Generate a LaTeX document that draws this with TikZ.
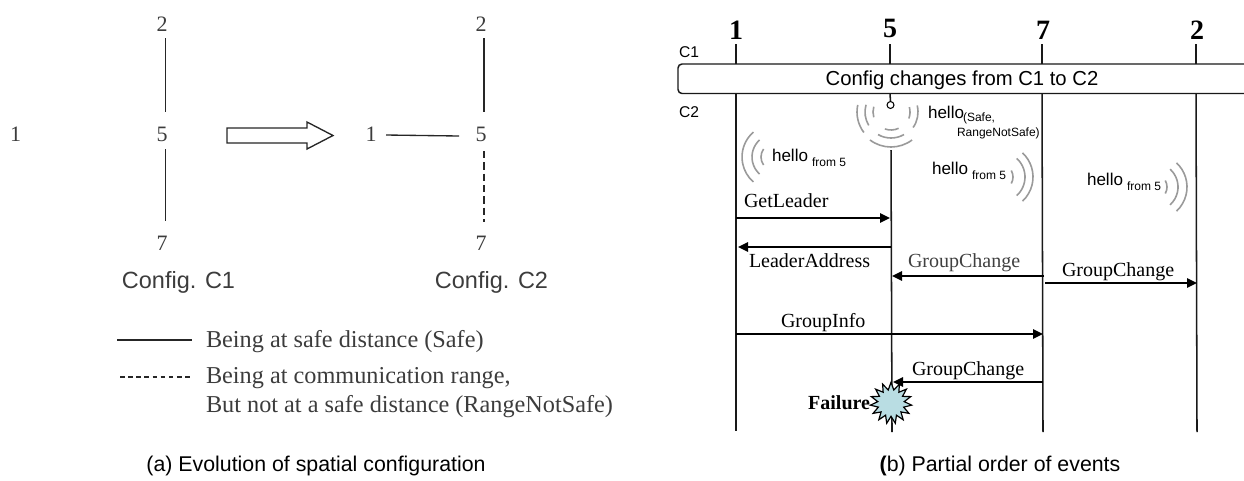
\documentclass[tikz,border=0pt]{standalone}
\usepackage{fontspec}
\setmainfont{Liberation Serif}
\newfontfamily\arialf{Liberation Sans}
\usetikzlibrary{arrows.meta,shapes.geometric}
\definecolor{graytxt}{HTML}{3C3C3C}
\definecolor{wavegray}{HTML}{9A9A9A}
\definecolor{burst}{HTML}{B9DDE3}
\newcommand{\fsz}[1]{\fontsize{#1}{#1}\selectfont}
\tikzset{
  x=0.75pt,y=-0.75pt,
  lab/.style={inner sep=0pt,outer sep=0pt},
  digit/.style={lab,font=\fsz{16.5}\color{graytxt}},
  cfg/.style={lab,font=\arialf\fsz{17.6}\color{graytxt}},
  legend/.style={lab,anchor=west,font=\fsz{18.2}\color{graytxt}},
  caption/.style={lab,font=\arialf\fsz{16}},
  proc/.style={lab,font=\bfseries\fsz{21}},
  msg/.style={lab,anchor=west,font=\fsz{15}},
  hl/.style={lab,anchor=west,font=\arialf\fsz{12.8}},
  sb/.style={lab,anchor=west,font=\arialf\fsz{9}},
  tag/.style={lab,font=\arialf\fsz{11.7}},
  link/.style={line width=1pt,black!85},
  life/.style={line width=1.15pt,black!90},
  mess/.style={line width=1.3pt,black,-{Triangle[length=7.5pt,width=7pt]}},
  wave/.style={line width=1.2pt,wavegray},
}
\newcommand{\wv}[5]{\draw[wave] (#1,#2) ++(#4:#3*0.75pt) arc[start angle=#4,end angle=#5,radius=#3*0.75pt];}
\begin{document}
\begin{tikzpicture}
\useasboundingbox (0,0) rectangle (1244,480);
% ---- left panel
\node[digit] (a1) at (15.5,134) {1};
\node[digit] (a2) at (162,24) {2};
\node[digit] (a5) at (162,134) {5};
\node[digit] (a7) at (162,243) {7};
\coordinate (a2b) at (165.5,38);
\coordinate (a5t) at (165.5,112);
\coordinate (a5b) at (165.5,149);
\coordinate (a7t) at (165.5,221);
\draw[link] (a2b) -- (a5t);
\draw[link] (a5b) -- (a7t);
\draw[link,fill=white] (227,128) -- (307,128) -- (307,122) -- (333,135.5) -- (307,149) -- (307,143) -- (227,143) -- cycle;
\node[digit] (b1) at (371,134) {1};
\node[digit] (b2) at (481,24) {2};
\node[digit] (b5) at (481,134) {5};
\node[digit] (b7) at (481,243) {7};
\coordinate (b2b) at (484,38);
\coordinate (b5t) at (484,112);
\coordinate (b5b) at (484,151);
\coordinate (b7t) at (484,222);
\coordinate (b1r) at (386,135);
\coordinate (b5l) at (459,136);
\draw[link] (b2b) -- (b5t);
\draw[link] (b1r) -- (b5l);
\draw[link,dash pattern=on 5.5pt off 3pt] (b5b) -- (b7t);
\node[cfg] (c1) at (178.5,282) {Config. C1};
\node[cfg] (c2) at (491.5,282) {Config. C2};
\coordinate (l1a) at (117,340); \coordinate (l1b) at (192,340);
\coordinate (l2a) at (120,377); \coordinate (l2b) at (192,377);
\draw[link] (l1a) -- (l1b);
\draw[link,dash pattern=on 3.5pt off 2.6pt] (l2a) -- (l2b);
\node[legend] (t1) at (206,342) {Being at safe distance (Safe)};
\node[legend] (t2) at (206,378) {Being at communication range,};
\node[legend] (t3) at (206,407) {But not at a safe distance (RangeNotSafe)};
\node[caption] (capa) at (316,466) {(a) Evolution of spatial configuration};
% ---- right panel
\node[proc] (p1) at (736,30) {1};
\node[proc] (p5) at (890,28) {5};
\node[proc] (p7) at (1043,30) {7};
\node[proc] (p2) at (1197,30) {2};
\node[tag] (lc1) at (689,52) {C1};
\node[tag] (lc2) at (689,112) {C2};
\coordinate (boxtr) at (1244,64); \coordinate (boxbr) at (1244,93.5);
\draw[line width=1.1pt,black!90,rounded corners=3pt] (boxtr) -- (678,64) -- (678,93.5) -- (boxbr);
\node[lab,font=\arialf\fsz{15.2}] (box) at (962,80) {Config changes from C1 to C2};
\coordinate (l1t) at (736,44); \coordinate (l5t) at (890,44);
\coordinate (l7t) at (1042,44); \coordinate (l2t) at (1196,44);
\coordinate (l1a) at (736,94); \coordinate (l5a) at (890,94);
\coordinate (l7a) at (1042,94); \coordinate (l2a) at (1196,94);
\coordinate (l1u) at (736,64); \coordinate (l5u) at (890,64);
\coordinate (l7u) at (1042,64); \coordinate (l2u) at (1196,64);
\coordinate (l1b) at (736,431); \coordinate (l5c) at (891,150); \coordinate (l5e) at (892,432);
\coordinate (l7b) at (1043,432); \coordinate (l2b) at (1197,432);
\draw[life] (l1t) -- (l1u);
\draw[life] (l5t) -- (l5u);
\draw[life] (l7t) -- (l7u);
\draw[life] (l2t) -- (l2u);
\draw[life] (l1a) -- (l1b);
\node[circle,draw,line width=0.8pt,minimum size=5.2pt,inner sep=0pt] (ant) at (890.5,105) {};
\draw[life] (l5a) -- (ant.north);
\draw[life] (l5c) -- (l5e);
\draw[life] (l7a) -- (l7b);
\draw[life] (l2a) -- (l2b);
% waves
\wv{891}{112}{18}{163}{197}
\wv{891}{112}{26}{164}{211}
\wv{891}{112}{34}{168}{217}
\wv{891}{112}{19}{15}{-20}
\wv{891}{112}{27}{14}{-35}
\wv{891}{112}{18}{250}{295}
\wv{891}{112}{26}{240}{300}
\wv{891}{112}{35}{233}{307}
\wv{775}{157}{14}{145}{215}
\wv{775}{157}{23}{132}{228}
\wv{775}{157}{33}{131}{229}
\wv{1000}{177}{13}{30}{-30}
\wv{1000}{177}{25}{48}{-48}
\wv{1000}{177}{33}{47}{-47}
\wv{1154}{187}{13}{30}{-30}
\wv{1154}{187}{24}{48}{-48}
\wv{1154}{187}{33}{47}{-47}
% hello labels
\node[hl] (h0) at (928,112) {hello};
\node[sb] (h0a) at (963,118) {(Safe,};
\node[sb] (h0b) at (957,133) {RangeNotSafe)};
\node[hl] (h1) at (772,155) {hello};
\node[sb] (h1s) at (812,162) {from 5};
\node[hl] (h2) at (932,168) {hello};
\node[sb] (h2s) at (972,175) {from 5};
\node[hl] (h3) at (1087,179) {hello};
\node[sb] (h3s) at (1127,186) {from 5};
% burst
\node[star,star points=15,star point ratio=1.55,draw=black,line width=0.9pt,fill=burst,minimum size=31pt,inner sep=0pt] (fail) at (891,403) {};
\node[lab,anchor=east,font=\bfseries\fsz{15}] (failt) at (870,403) {Failure};
% messages
\coordinate (m1a) at (736,218); \coordinate (m1b) at (890,218);
\coordinate (m2a) at (891,247); \coordinate (m2b) at (738,247);
\coordinate (m3a) at (1044,276); \coordinate (m3b) at (892,276);
\coordinate (m4a) at (1045,283); \coordinate (m4b) at (1197,283);
\coordinate (m5a) at (736,334); \coordinate (m5b) at (1043,334);
\coordinate (m6a) at (1043,382); \coordinate (m6b) at (893,382);
\draw[mess] (m1a) -- (m1b);
\draw[mess] (m2a) -- (m2b);
\draw[mess] (m3a) -- (m3b);
\draw[mess] (m4a) -- (m4b);
\draw[mess] (m5a) -- (m5b);
\draw[mess] (m6a) -- (m6b);
\node[msg] (g1) at (744,201) {GetLeader};
\node[msg] (g2) at (749,261) {LeaderAddress};
\node[msg,text=black!75] (g3) at (908,263) {GroupChange};
\node[msg] (g4) at (1062,272) {GroupChange};
\node[msg] (g5) at (781,323) {GroupInfo};
\node[msg] (g6) at (912,371) {GroupChange};
\node[caption] (capb) at (1000,466) {\textbf{(}b) Partial order of events};
\end{tikzpicture}
\end{document}
